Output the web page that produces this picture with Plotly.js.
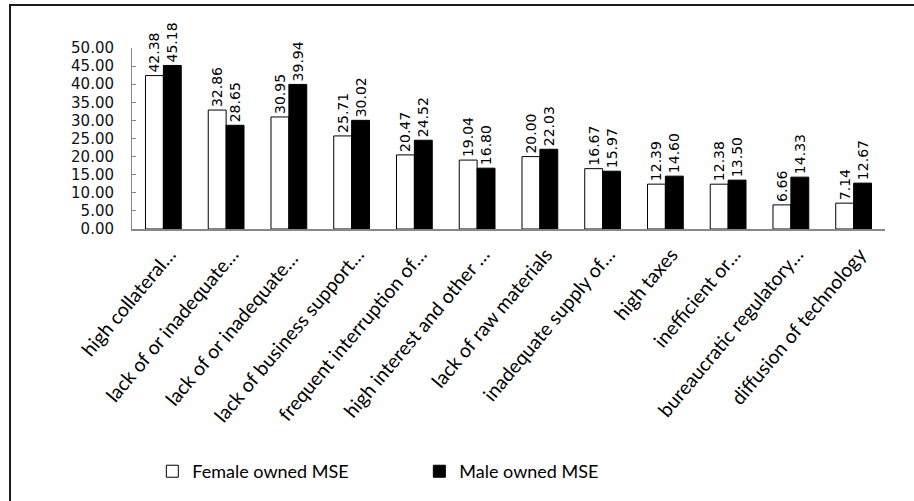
<!DOCTYPE html>
<html>
<head>
<meta charset="utf-8">
<script src="https://cdn.plot.ly/plotly-3.0.1.min.js"></script>
<style>
html,body{margin:0;padding:0;background:#fff;overflow:hidden;}
#wrap{position:relative;width:914px;height:501px;}
#chart{width:914px;height:501px;}
#frame{position:absolute;left:9px;top:4px;width:1000px;height:1000px;border-left:2px solid #1a1a1a;border-top:2px solid #1a1a1a;pointer-events:none;}
</style>
</head>
<body>
<div id="wrap"><div id="chart"></div><div id="frame"></div></div>
<script>
var categories = [
  "high collateral…",
  "lack of or inadequate…",
  "lack of or inadequate… ",
  "lack of business support…",
  "frequent interruption of…",
  "high interest and other …",
  "lack of raw materials",
  "inadequate supply of…",
  "high taxes",
  "inefficient or…",
  "bureaucratic regulatory…",
  "diffusion of technology"
];
var femaleValues = [42.38, 32.86, 30.95, 25.71, 20.47, 19.04, 20.00, 16.67, 12.39, 12.38, 6.66, 7.14];
var maleValues   = [45.18, 28.65, 39.94, 30.02, 24.52, 16.80, 22.03, 15.97, 14.60, 13.50, 14.33, 12.67];
var seriesNames = ["Female owned MSE", "Male owned MSE"];

function fmt(v){ return v.toFixed(2); }

var labelFont = {family: "DejaVu Sans", size: 14, color: "#000"};

var traces = [
  {
    type: "bar", name: seriesNames[0], x: categories, y: femaleValues,
    marker: {color: "#ffffff", line: {color: "#000", width: 1}},
    text: femaleValues.map(fmt), textposition: "outside", textangle: -90,
    textfont: labelFont, cliponaxis: false, constraintext: "none", hoverinfo: "skip"
  },
  {
    type: "bar", name: seriesNames[1], x: categories, y: maleValues,
    marker: {color: "#000000", line: {color: "#000", width: 1}},
    text: maleValues.map(fmt), textposition: "outside", textangle: -90,
    textfont: labelFont, cliponaxis: false, constraintext: "none", hoverinfo: "skip"
  }
];

var layout = {
  width: 914, height: 501,
  margin: {l: 132, r: 29, t: 48, b: 272},
  paper_bgcolor: "#fff", plot_bgcolor: "#fff",
  barmode: "group", bargap: 0.43, bargroupgap: 0,
  showlegend: true,
  legend: {
    orientation: "h", x: 0.027, xanchor: "left", y: -1.34, yanchor: "middle",
    font: {family: "Lato", size: 18, color: "#000"},
    entrywidth: 222, entrywidthmode: "pixels", traceorder: "normal"
  },
  xaxis: {
    type: "category", showgrid: false, zeroline: false,
    showline: true, linecolor: "#888", linewidth: 1.5,
    ticks: "", tickangle: -50,
    ticklabelstandoff: 5, ticklabelshift: 6,
    tickfont: {family: "Lato", size: 19.5, color: "#000"},
    fixedrange: true
  },
  yaxis: {
    range: [0, 50], dtick: 5, tick0: 0, tickformat: ".2f",
    showgrid: false, zeroline: false,
    showline: true, linecolor: "#888", linewidth: 1,
    ticks: "inside", ticklen: 4, tickcolor: "#888",
    ticklabelstandoff: 14,
    tickfont: {family: "DejaVu Sans", size: 15, color: "#111"},
    fixedrange: true
  }
};

Plotly.newPlot("chart", traces, layout, {displayModeBar: false, staticPlot: true});
</script>
</body>
</html>
